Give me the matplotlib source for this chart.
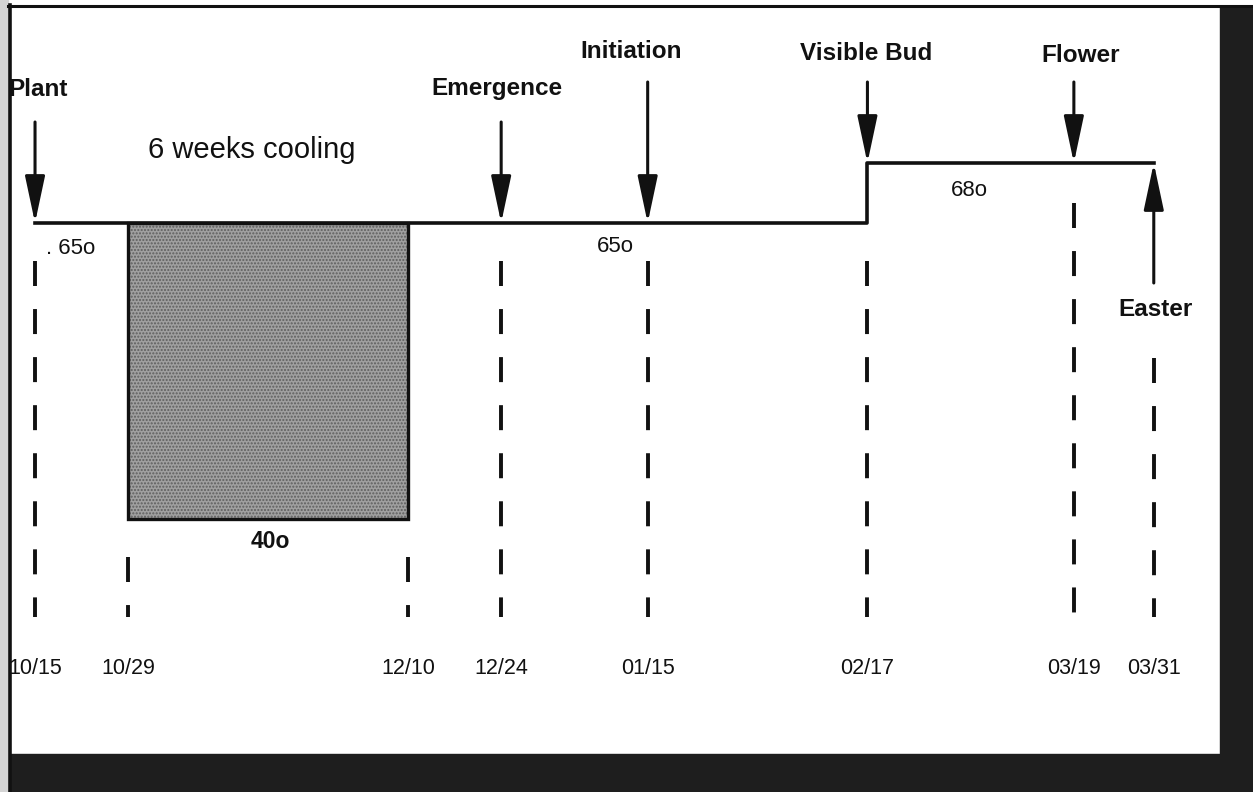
import numpy as np
import matplotlib.pyplot as plt
import matplotlib.dates as mdates
from matplotlib.patches import Rectangle

plt.rcParams.update({'font.family': ['Liberation Sans', 'DejaVu Sans'],
                     'lines.scale_dashes': False})

# schedule dates (Easter 2024 falls on 03/31)
dates = np.array(['2023-10-15', '2023-10-29', '2023-12-10', '2023-12-24',
                  '2024-01-15', '2024-02-17', '2024-03-19', '2024-03-31'],
                 dtype='datetime64[D]')
date_labels = ['10/15', '10/29', '12/10', '12/24', '01/15', '02/17', '03/19', '03/31']

# greenhouse temperature steps (deg F)
temp_dates = np.array(['2023-10-15', '2024-02-17', '2024-03-31'], dtype='datetime64[D]')
temps = [65, 68, 68]

# cooling period
cool_start = np.datetime64('2023-10-29')
cool_end = np.datetime64('2023-12-10')
cool_temp = 40
cool_base = 65

# crop stages
events = ['Plant', 'Emergence', 'Initiation', 'Visible Bud', 'Flower']
event_dates = np.array(['2023-10-15', '2023-12-24', '2024-01-15', '2024-02-17',
                        '2024-03-19'], dtype='datetime64[D]')
event_temps = [65, 65, 65, 68, 68]
easter = np.datetime64('2024-03-31')

W, H = 1253, 792


def fy(p):
    # pixel row (from top) -> axes fraction
    return 1 - p / H


def fx(p):
    return p / W


# temperatures are drawn on a schematic (non linear) vertical scale
T_KNOTS = [20, 40, 65, 68, 80]
H_KNOTS = [0, 273, 569, 629, 792]


def fwd(t):
    return np.interp(t, T_KNOTS, H_KNOTS)


def inv(h):
    return np.interp(h, H_KNOTS, T_KNOTS)


fig = plt.figure(figsize=(W / 100, H / 100), dpi=100, facecolor='white')
ax = fig.add_axes([0, 0, 1, 1])
ax.set_axis_off()
ax.set_yscale('function', functions=(fwd, inv))
ax.set_ylim(20, 80)

x = mdates.date2num(dates)
x0 = x[0]
ax.set_xlim(x0 - 5.26, x0 + 182.9)

# scan frame
ta = ax.transAxes
ax.add_patch(Rectangle((fx(1220), 0), 1, fy(7), transform=ta, color='#1e1e1e', zorder=0))
ax.add_patch(Rectangle((fx(10), 0), 1, fy(754), transform=ta, color='#1e1e1e', zorder=0))
ax.add_patch(Rectangle((0, 0), fx(8), 1, transform=ta, color='#d4d4d4', zorder=0))
ax.plot([fx(9.5), fx(9.5)], [fy(5), 0], transform=ta, color='#111', lw=2.6, zorder=1)
ax.plot([fx(8), 1], [fy(5.5), fy(5.5)], transform=ta, color='#111', lw=2.2, zorder=1)

# dashed guide lines at each date
guide_top = [261, 557, 557, 261, 261, 261, 203, 358]
for xi, top in zip(x, guide_top):
    ax.plot([xi, xi], [fy(top), fy(617)], transform=ax.get_xaxis_transform(),
            color='#111', lw=2.8, linestyle=(0, (18, 16.6)),
            solid_capstyle='butt', dash_capstyle='butt')

# cooling box
cx = mdates.date2num(cool_start)
cw = mdates.date2num(cool_end) - cx
ax.bar(cx, cool_base - cool_temp, bottom=cool_temp, width=cw, align='edge',
       color='#a0a0a0', hatch='.....', edgecolor='#5e5e5e', linewidth=0, zorder=2)
ax.bar(cx, cool_base - cool_temp, bottom=cool_temp, width=cw, align='edge',
       fill=False, edgecolor='#111', linewidth=2.4, zorder=3)

# temperature line
ax.plot(mdates.date2num(temp_dates), temps, drawstyle='steps-post',
        color='#111', lw=2.6, zorder=4)

arrow = dict(arrowstyle='-|>,head_length=1.6,head_width=0.34', mutation_scale=18,
             color='#111', lw=2.2, shrinkA=0, shrinkB=0)

# stage arrows and labels
ex = mdates.date2num(event_dates)
arrow_top = [122, 122, 82, 82, 82]
label_y = [90, 89, 52, 53, 55]
label_dx = [3, -4, -17, -1, 7]
for name, xi, t, top, ly, dx in zip(events, ex, event_temps, arrow_top, label_y, label_dx):
    ax.annotate('', xy=(xi, t), xytext=(xi, fy(top)), textcoords=('data', 'axes fraction'),
                arrowprops=arrow, zorder=5)
    ax.annotate(name, xy=(xi, fy(ly)), xycoords=('data', 'axes fraction'),
                xytext=(dx, 0), textcoords='offset pixels', ha='center', va='center',
                fontsize=17.5, fontweight='bold', color='#111')

# Easter arrow from below
exx = mdates.date2num(easter)
ax.annotate('', xy=(exx, 68), xytext=(exx, fy(283)), textcoords=('data', 'axes fraction'),
            arrowprops=arrow, zorder=5)
ax.annotate('Easter', xy=(exx, fy(310)), xycoords=('data', 'axes fraction'),
            xytext=(2, 0), textcoords='offset pixels', ha='center', va='center',
            fontsize=17.5, fontweight='bold', color='#111')

# temperature labels and notes
ax.text(fx(252), fy(150), '6 weeks cooling', transform=ta, ha='center', va='center',
        fontsize=21, color='#111')
ax.text(fx(46), fy(249), '. 65o', transform=ta, ha='left', va='center', fontsize=16, color='#111')
ax.text(fx(615), fy(247), '65o', transform=ta, ha='center', va='center', fontsize=16, color='#111')
ax.text(fx(969), fy(190), '68o', transform=ta, ha='center', va='center', fontsize=16, color='#111')
ax.text(fx(270), fy(542), '40o', transform=ta, ha='center', va='center', fontsize=16.5,
        fontweight='bold', color='#111')

# date labels
for xi, lab in zip(x, date_labels):
    ax.text(xi, fy(668), lab, transform=ax.get_xaxis_transform(), ha='center', va='center',
            fontsize=15.5, color='#111', family=['Liberation Sans Narrow', 'Liberation Sans'])

fig.savefig('out.png', dpi=100, facecolor=fig.get_facecolor())
